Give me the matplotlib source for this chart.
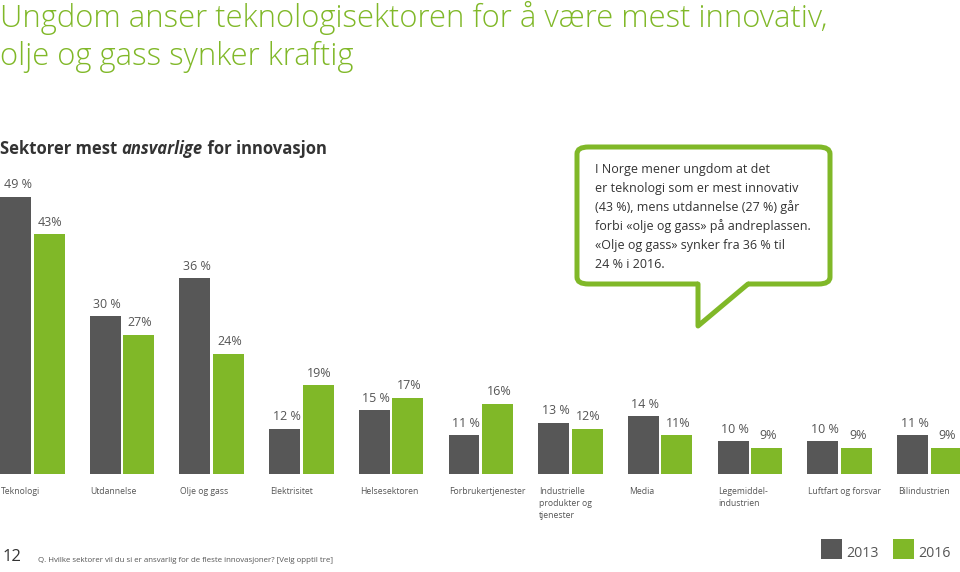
import numpy as np
import matplotlib.pyplot as plt
from matplotlib.patches import FancyBboxPatch, Rectangle, Polygon
from matplotlib.lines import Line2D
import matplotlib.transforms as mtransforms

plt.rcParams['font.family'] = ['Open Sans', 'DejaVu Sans']

# Дані
categories = ["Teknologi", "Utdannelse", "Olje og gass", "Elektrisitet", "Helsesektoren",
              "Forbrukertjenester", "Industrielle\nprodukter og\ntjenester", "Media",
              "Legemiddel-\nindustrien", "Luftfart og forsvar", "Bilindustrien"]
v2013 = [49, 30, 36, 12, 15, 11, 13, 14, 10, 10, 11]
v2016 = [43, 27, 24, 19, 17, 16, 12, 11, 9, 9, 9]
labels2013 = ["49 %", "30 %", "36 %", "12 %", "15 %", "11 %", "13 %", "14 %", "10 %", "10 %", "11 %"]
labels2016 = ["43%", "27%", "24%", "19%", "17%", "16%", "12%", "11%", "9%", "9%", "9%"]
years = ["2013", "2016"]

dark = '#575757'
green = '#80b828'
txt = '#555555'

W, H = 960, 572
fig = plt.figure(figsize=(9.6, 5.72), dpi=100)


def fx(px):
    return px / W


def fy(py):
    return 1 - py / H


# Осі: низ на 474 px, 6.27 px на 1 %
ax = fig.add_axes([0, fy(474), 1, 314 / H])
ax.set_xlim(0, W / 89.7)
ax.set_ylim(4.8, 4.8 + 314 / 6.27)
ax.axis('off')

x = np.arange(len(categories))
bw = 31 / 89.7
off = 33.5 / 89.7
ax.bar(x, v2013, width=bw, bottom=0, align='edge', color=dark)
ax.bar(x + off, v2016, width=bw, bottom=0, align='edge', color=green)

for i in range(len(categories)):
    ax.annotate(labels2013[i], (x[i] + bw / 2, v2013[i]), xytext=(1.5, 8.6),
                textcoords='offset points', ha='center', va='center', fontsize=9, color=txt)
    ax.annotate(labels2016[i], (x[i] + off + bw / 2, v2016[i]), xytext=(1, 8.6),
                textcoords='offset points', ha='center', va='center', fontsize=9, color=txt)

# Підписи категорій
trans = mtransforms.blended_transform_factory(ax.transData, fig.transFigure)
for i, c in enumerate(categories):
    ax.text(x[i] + 1 / 89.7, fy(486.5), c, transform=trans, ha='left', va='top',
            fontsize=6.2, color=txt, linespacing=1.45)

# Заголовок
fig.text(fx(0), fy(27), "Ungdom anser teknologisektoren for å være mest innovativ,",
         fontsize=22.3, color=green, va='baseline', ha='left', fontweight='light')
fig.text(fx(0), fy(65), "olje og gass synker kraftig",
         fontsize=22.3, color=green, va='baseline', ha='left', fontweight='light')

# Підзаголовок з курсивом
t1 = fig.text(fx(0), fy(154), "Sektorer mest ", fontsize=12, fontweight='bold',
              color='#333333', va='baseline', ha='left')
t2 = fig.text(0, 0, "ansvarlige", fontsize=12, fontweight='bold', style='italic',
              color='#333333', va='baseline', ha='left')
t3 = fig.text(0, 0, " for innovasjon", fontsize=12, fontweight='bold',
              color='#333333', va='baseline', ha='left')
fig.canvas.draw()
r = fig.canvas.get_renderer()
bb = t1.get_window_extent(r)
t2.set_position((bb.x1 / W, fy(154)))
bb = t2.get_window_extent(r)
t3.set_position((bb.x1 / W, fy(154)))

# Виноска
box = FancyBboxPatch((fx(577), fy(284)), fx(830) - fx(577), fy(147) - fy(284),
                     boxstyle="round,pad=0,rounding_size=0.012", transform=fig.transFigure,
                     facecolor='white', edgecolor=green, linewidth=3.6, zorder=5)
fig.patches.append(box)
fig.patches.append(Polygon([(fx(698), fy(280)), (fx(748), fy(280)), (fx(748), fy(290)),
                            (fx(698), fy(290))], closed=True, transform=fig.transFigure,
                           facecolor='white', edgecolor='none', zorder=6))
fig.lines.append(Line2D([fx(698), fx(698), fx(748)], [fy(284), fy(326), fy(284)],
                        transform=fig.transFigure, color=green, linewidth=3.6,
                        solid_joinstyle='round', solid_capstyle='round', zorder=7))
callout = ["I Norge mener ungdom at det",
           "er teknologi som er mest innovativ",
           "(43 %), mens utdannelse (27 %) går",
           "forbi «olje og gass» på andreplassen.",
           "«Olje og gass» synker fra 36 % til",
           "24 % i 2016."]
for k, line in enumerate(callout):
    fig.text(fx(595), fy(173 + 19 * k), line, fontsize=9.0, color='#333333',
             va='baseline', ha='left', zorder=8)

# Легенда
for px0, col, yr in [(821, dark, years[0]), (893, green, years[1])]:
    fig.patches.append(Rectangle((fx(px0), fy(559)), 21 / W, 20 / H, transform=fig.transFigure,
                                 facecolor=col, edgecolor='none'))
    fig.text(fx(px0 + 25), fy(557), yr, fontsize=10.2, color=txt, va='baseline', ha='left')

# Нижній колонтитул
fig.text(fx(3), fy(561), "12", fontsize=12, color='#333333', va='baseline', ha='left')
fig.text(fx(38), fy(562), "Q. Hvilke sektorer vil du si er ansvarlig for de fleste innovasjoner? [Velg opptil tre]",
         fontsize=5.7, color=txt, va='baseline', ha='left')

fig.savefig('out.png', dpi=100)
